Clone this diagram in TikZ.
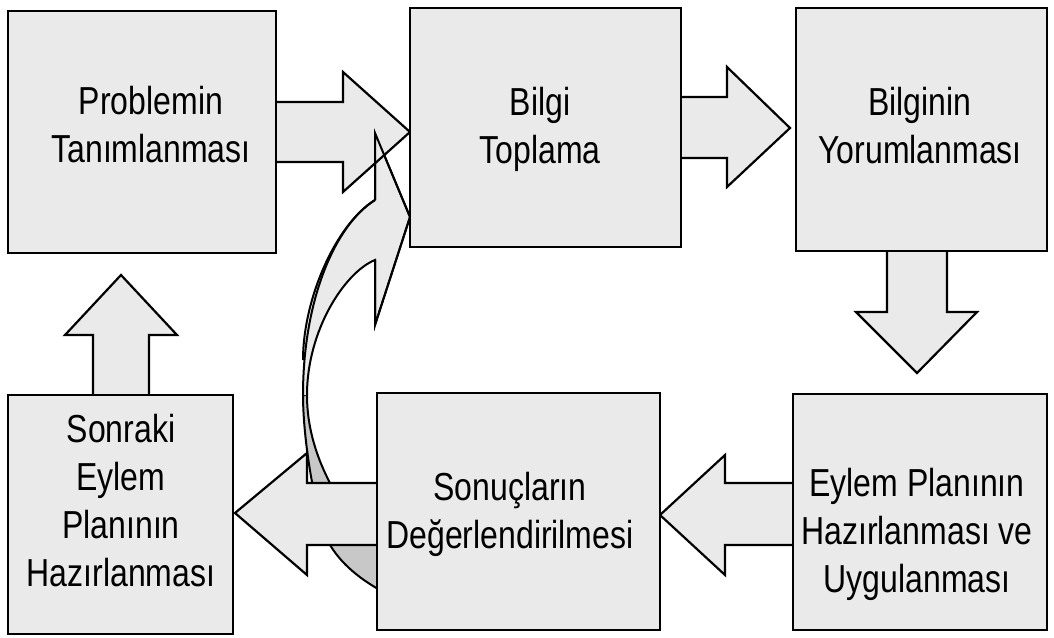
\documentclass[tikz,border=0pt]{standalone}
\usepackage{fontspec}
\setmainfont{Liberation Sans}
\usepackage{graphicx}
\definecolor{boxgray}{HTML}{EAEAEA}
\definecolor{backgray}{HTML}{C8C8C8}
\newcommand{\lbltext}[1]{\scalebox{1}[1.22]{\fontsize{32}{39.3}\selectfont\begin{tabular}{@{}c@{}}#1\end{tabular}}}
\tikzset{
  box/.style={draw=black, line width=2.2pt, fill=boxgray, rectangle, inner sep=0pt},
  blk/.style={draw=black, line width=2.2pt, fill=boxgray, line join=miter},
  backface/.style={draw=black, line width=2pt, fill=backgray},
  rib/.style={draw=black, line width=2pt},
  lbl/.style={inner sep=0pt, text=black, align=center}
}
\begin{document}
\begin{tikzpicture}[x=1pt,y=-1pt]
\useasboundingbox[fill=white] (0,0) rectangle (1054,637);

% curved arrow: back face
\path[backface] (303,395) .. controls (303,440) and (315,515) .. (330,545)
  .. controls (345,570) and (375,592) .. (420,608) -- (420,550)
  .. controls (370,530) and (345,510) .. (330,483)
  .. controls (318,460) and (307,430) .. (307,395) -- cycle;
% curved arrow: front face
\fill[boxgray] (375,200) .. controls (335,225) and (303,300) .. (303,395) -- (307,395)
  .. controls (307,330) and (345,272) .. (375,260) -- (375,325) -- (410,217) -- (375,133) -- cycle;
\draw[rib] (375,200) .. controls (335,225) and (303,300) .. (303,395);
\draw[rib] (307,395) .. controls (307,330) and (345,272) .. (375,260) -- (375,325) -- (410,217) -- (375,133) -- (375,200);

% block arrows
\draw[blk] (270,102) -- (343,102) -- (343,72) -- (410,132) -- (343,192) -- (343,162) -- (270,162) -- cycle;
\draw[blk] (675,97) -- (727,97) -- (727,67) -- (790,128) -- (727,187) -- (727,158) -- (675,158) -- cycle;
\draw[blk] (887,245) -- (887,312) -- (856,312) -- (917,373) -- (977,312) -- (947,312) -- (947,245) -- cycle;
\draw[blk] (800,483) -- (725,483) -- (725,455) -- (660,515) -- (725,575) -- (725,545) -- (800,545) -- cycle;
\draw[blk] (385,483) -- (307,483) -- (307,453) -- (235,513) -- (307,575) -- (307,545) -- (385,545) -- cycle;
\draw[blk] (93,400) -- (93,335) -- (65,335) -- (121,275) -- (177,335) -- (149,335) -- (149,400) -- cycle;

% redraw curved arrow outline over the first arrow
\draw[rib] (375,200) .. controls (335,225) and (303,300) .. (303,360);
\draw[rib] (375,260) -- (375,325) -- (410,217) -- (375,133) -- (375,200);

% boxes
\node[box, minimum width=268pt, minimum height=242pt] (b1) at (142,132) {};
\node[box, minimum width=271pt, minimum height=239pt] (b2) at (545.5,127.5) {};
\node[box, minimum width=251pt, minimum height=243pt] (b3) at (921.5,129.5) {};
\node[box, minimum width=254pt, minimum height=236pt] (b4) at (920,512) {};
\node[box, minimum width=283pt, minimum height=237pt] (b5) at (518.5,511.5) {};
\node[box, minimum width=225pt, minimum height=239pt] (b6) at (120.5,514.5) {};

% labels
\node[lbl] (t1) at (151,129) {\lbltext{Problemin\\Tanımlanması}};
\node[lbl] (t2) at (540,130) {\lbltext{Bilgi\\Toplama}};
\node[lbl] (t3) at (920,130) {\lbltext{Bilginin\\Yorumlanması}};
\node[lbl] (t4) at (917,535) {\lbltext{Eylem Planının\\Hazırlanması ve\\Uygulanması}};
\node[lbl] (t5) at (510,515) {\lbltext{Sonuçların\\Değerlendirilmesi}};
\node[lbl] (t6) at (121,505) {\lbltext{Sonraki\\Eylem\\Planının\\Hazırlanması}};
\end{tikzpicture}
\end{document}
